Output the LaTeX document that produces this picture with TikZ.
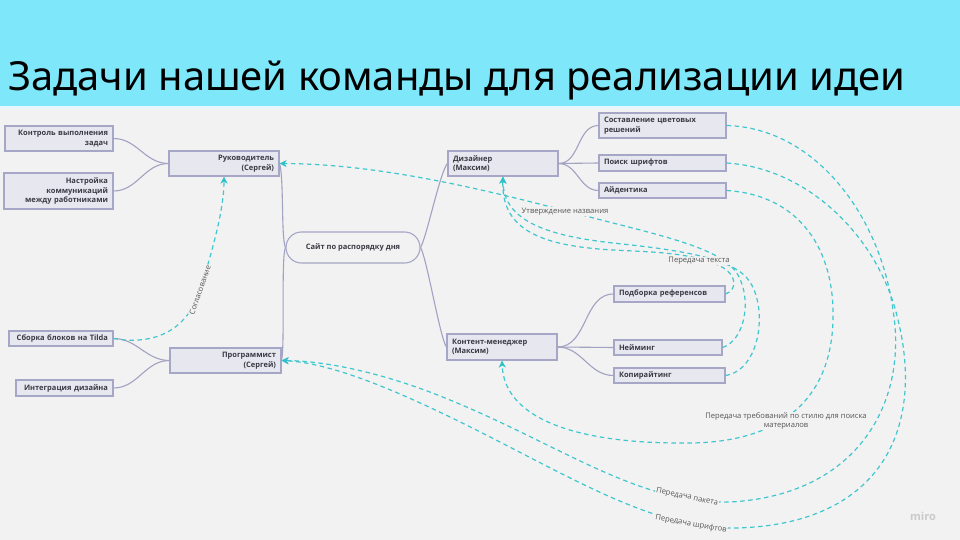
\documentclass[tikz,border=0pt]{standalone}
\usepackage{fontspec}
\setmainfont{Open Sans}
\newfontfamily\titlefont{Noto Sans}
\usetikzlibrary{arrows.meta}
\definecolor{hdr}{HTML}{7EE8FA}
\definecolor{hdrline}{HTML}{E6F6FA}
\definecolor{bg}{HTML}{F2F2F2}
\definecolor{boxfill}{HTML}{E7E7EF}
\definecolor{boxline}{HTML}{A6A6C6}
\definecolor{tree}{HTML}{A2A2C2}
\definecolor{dashc}{HTML}{3FC6CE}
\definecolor{tipc}{HTML}{2EC2C8}
\definecolor{txt}{HTML}{3A3A44}
\definecolor{lbl}{HTML}{555555}
\definecolor{wm}{HTML}{CACACA}
\tikzset{
  basebox/.style={draw=boxline, fill=boxfill, line width=1.1pt, inner xsep=5pt, inner ysep=2pt,
    font=\fontsize{7.5}{9.5}\selectfont\bfseries, text=txt},
  lbox/.style={basebox, align=right},
  rbox/.style={basebox, align=left},
  rootbox/.style={draw=boxline, fill=bg, line width=1.1pt, rounded corners=15.5pt,
    minimum width=134pt, minimum height=31pt, font=\fontsize{7.5}{9.5}\selectfont\bfseries, text=txt},
  tree/.style={draw=tree, line width=1.1pt},
  dline/.style={draw=dashc, line width=1.2pt, dash pattern=on 4.5pt off 3.5pt},
  arr/.style={dline, -{Stealth[length=7pt,width=7pt,inset=2pt,fill=tipc,color=tipc]}},
  lbltext/.style={font=\fontsize{7.6}{9.5}\selectfont, text=lbl, fill=bg, inner sep=0.8pt}
}
\begin{document}
\begin{tikzpicture}[x=1pt,y=-1pt]
\useasboundingbox (0,0) rectangle (960,540);
\fill[bg] (0,0) rectangle (960,540);
\fill[hdr] (0,0) rectangle (960,107);
\fill[hdrline] (0,106) rectangle (960,109);
\node[anchor=base west, inner sep=0pt, font=\titlefont\fontsize{40}{44}\selectfont] (title) at (8,91)
  {\resizebox{897pt}{!}{Задачи нашей команды для реализации идеи}};

% nodes
\node[lbox, minimum width=108pt, minimum height=25pt, text width=98pt] (kontrol) at (59,138.5) {Контроль выполнения\\задач};
\node[lbox, minimum width=109pt, minimum height=36pt, text width=99pt] (nastr) at (58.5,191) {Настройка\\коммуникаций\\между работниками};
\node[lbox, minimum width=110pt, minimum height=25pt, text width=100pt] (ruk) at (224,163.5) {Руководитель\\(Сергей)};
\node[lbox, minimum width=104pt, minimum height=15pt, text width=94pt] (sborka) at (61,338.5) {Сборка блоков на Tilda};
\node[lbox, minimum width=97pt, minimum height=16pt, text width=87pt] (integr) at (64.5,388) {Интеграция дизайна};
\node[lbox, minimum width=111pt, minimum height=25pt, text width=101pt] (prog) at (225.5,360.5) {Программист\\(Сергей)};
\node[rootbox] (root) at (353,247.5) {Сайт по распорядку дня};
\node[rbox, minimum width=110pt, minimum height=25pt, text width=100pt] (diz) at (503,163.5) {Дизайнер\\(Максим)};
\node[rbox, minimum width=110pt, minimum height=26pt, text width=100pt] (kont) at (502,347) {Контент-менеджер\\(Максим)};
\node[rbox, minimum width=127pt, minimum height=25pt, text width=117pt] (sost) at (662.5,125.5) {Составление цветовых\\решений};
\node[rbox, minimum width=127pt, minimum height=16pt, text width=117pt] (poisk) at (662.5,163) {Поиск шрифтов};
\node[rbox, minimum width=127pt, minimum height=15pt, text width=117pt] (aid) at (662.5,190.5) {Айдентика};
\node[rbox, minimum width=111pt, minimum height=16pt, text width=101pt] (podb) at (669.5,294) {Подборка референсов};
\node[rbox, minimum width=108pt, minimum height=15pt, text width=98pt] (nejm) at (668,347.5) {Нейминг};
\node[rbox, minimum width=111pt, minimum height=15pt, text width=101pt] (kopi) at (669.5,375.5) {Копирайтинг};

% tree connectors
\draw[tree] (kontrol.east) to[out=0,in=180] (ruk.west);
\draw[tree] (nastr.east) to[out=0,in=180] (ruk.west);
\draw[tree] (sborka.east) to[out=0,in=180] (prog.west);
\draw[tree] (integr.east) to[out=0,in=180] (prog.west);
\draw[tree] (root.west) .. controls (281,238) and (284,178) .. (ruk.east);
\draw[tree] (root.west) .. controls (281,257) and (285,345) .. (prog.east);
\draw[tree] (root.east) .. controls (427,236) and (440,172) .. (diz.west);
\draw[tree] (root.east) .. controls (427,259) and (440,338) .. (kont.west);
\draw[tree] (diz.east) to[out=0,in=180] (sost.west);
\draw[tree] (diz.east) -- (poisk.west);
\draw[tree] (diz.east) to[out=0,in=180] (aid.west);
\draw[tree] (kont.east) to[out=0,in=180] (podb.west);
\draw[tree] (kont.east) -- (nejm.west);
\draw[tree] (kont.east) to[out=0,in=180] (kopi.west);

% dashed connectors
\draw[arr] (sborka.east) .. controls (150,345) and (186,334) .. (200,290) .. controls (212,252) and (224,210) .. (ruk.south);
\draw[arr] (nejm.east) .. controls (745,340) and (752,300) .. (738,275) .. controls (725,252) and (680,240) .. (613,223) .. controls (530,202) and (400,164) .. (ruk.east);
\draw[arr] (kopi.east) .. controls (760,370) and (768,310) .. (750,282) .. controls (735,258) and (680,250) .. (613,243) .. controls (550,236) and (503,222) .. (diz.south);
\draw[arr] (podb.east) .. controls (737,290) and (738,275) .. (720,266) .. controls (690,252) and (650,252) .. (613,250) .. controls (545,246) and (501,232) .. (diz.south);
\draw[arr] (sost.east) .. controls (815,128) and (880,215) .. (893,310) .. controls (908,400) and (860,495) .. (730,502) .. controls (640,505) and (560,445) .. (450,400) .. controls (390,375) and (330,361) .. (prog.east);
\draw[arr] (poisk.east) .. controls (810,168) and (880,240) .. (898,320) .. controls (925,430) and (880,525) .. (735,528) .. controls (650,530) and (560,470) .. (450,417) .. controls (390,388) and (330,363) .. (prog.east);
\draw[arr] (aid.east) .. controls (800,195) and (835,250) .. (833,320) .. controls (831,400) and (780,445) .. (680,443) .. controls (580,443) and (504,420) .. (kont.south);

% labels
\node[lbltext, rotate=71] (lsogl) at (200,290) {Согласование};
\node[lbltext] (lutv) at (565,211.5) {Утверждение названия};
\node[lbltext] (ltext) at (699,261) {Передача текста};
\node[lbltext, align=center] (ltreb) at (786,421) {Передача требований по стилю для поиска\\материалов};
\node[lbltext, rotate=-12] (lpak) at (687,497) {Передача пакета};
\node[lbltext, rotate=-10] (lshr) at (691,524) {Передача шрифтов};
\node[font=\bfseries\fontsize{11}{13}\selectfont, text=wm] (miro) at (923,516) {miro};
\end{tikzpicture}
\end{document}
